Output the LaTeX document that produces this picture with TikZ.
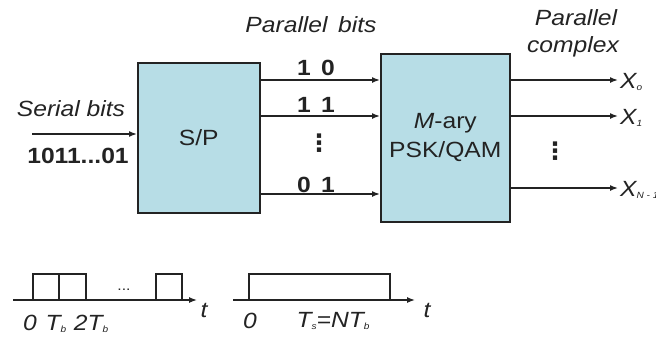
\documentclass[tikz,border=0pt]{standalone}
\usepackage{fontspec}
\setmainfont{Liberation Sans}[FakeStretch=1.12]
\newfontfamily\symfnt{DejaVu Sans}
\usetikzlibrary{arrows.meta}
\definecolor{boxfill}{RGB}{183,221,230}
\definecolor{ink}{RGB}{35,35,35}
\newcommand{\sbs}[1]{\raisebox{-2.5pt}{\fontsize{9}{9}\selectfont #1}}
\begin{document}
\begin{tikzpicture}[x=1pt,y=-1pt,
  every node/.style={text=ink, font=\fontsize{22}{29}\selectfont, inner sep=0pt},
  blk/.style={draw=ink, line width=1.6pt, fill=boxfill},
  sig/.style={draw=ink, line width=1.5pt, -{Latex[length=8pt,width=6pt]}},
  wave/.style={draw=ink, line width=1.3pt},
  lab/.style={font=\fontsize{22}{26}\selectfont\itshape},
  bitlab/.style={font=\fontsize{22}{26}\selectfont\bfseries},
  vdotlab/.style={font=\fontsize{24}{24}\selectfont\symfnt\bfseries}]
\useasboundingbox (0,0) rectangle (656,340);

% blocks
\node[blk, minimum width=122pt, minimum height=150pt, anchor=north west] (sp) at (137,62) {S/P};
\node[blk, minimum width=129pt, minimum height=168pt, anchor=north west, align=center] (psk) at (380,53) {\textit{M}-ary\\PSK/QAM};

% serial input
\coordinate (sin) at (32,134);
\draw[sig] (sin) -- (sin -| sp.west);
\node[lab, anchor=base] (serlab) at (71,116) {Serial bits};
\node[bitlab, anchor=base] (serbits) at (78,163) {1011...01};

% parallel bits
\draw[sig] (sp.east |- 0,80) -- (psk.west |- 0,80);
\draw[sig] (sp.east |- 0,116) -- (psk.west |- 0,116);
\draw[sig] (sp.east |- 0,194) -- (psk.west |- 0,194);
\node[lab, anchor=base] (parlab) at (311,32) {Parallel\, bits};
\node[bitlab, anchor=base] (b1) at (316,75) {1\, 0};
\node[bitlab, anchor=base] (b2) at (316,112) {1\, 1};
\node[vdotlab] (bdots) at (319,143) {⋮};
\node[bitlab, anchor=base] (b3) at (316,192) {0\, 1};

% outputs
\coordinate (o1) at (618,80);
\coordinate (o2) at (618,116);
\coordinate (o3) at (618,188);
\draw[sig] (psk.east |- o1) -- (o1);
\draw[sig] (psk.east |- o2) -- (o2);
\draw[sig] (psk.east |- o3) -- (o3);
\node[lab, anchor=base] (pc1) at (576,25) {Parallel};
\node[lab, anchor=base] (pc2) at (573,52) {complex};
\node[vdotlab] (odots) at (555,151) {⋮};
\node[lab, anchor=west] (x0) at (620,82) {X\sbs{o}};
\node[lab, anchor=west] (x1) at (620,118) {X\sbs{1}};
\node[lab, anchor=west] (xn) at (620,190) {X\sbs{N - 1}};

% waveforms
\draw[wave, -{Latex[length=8pt,width=6pt]}] (13,300) -- (197,300);
\draw[wave] (33,300) -- (33,274) -- (86,274) -- (86,300);
\draw[wave] (59,274) -- (59,300);
\draw[wave] (156,300) -- (156,274) -- (182,274) -- (182,300);
\node[font=\fontsize{14}{14}\selectfont] (wdots) at (124,290) {...};
\node[lab, anchor=base] (t1) at (204,317) {t};
\node[lab, anchor=base] (l0) at (30,330) {0};
\node[lab, anchor=base] (lTb) at (56,330) {T\sbs{b}};
\node[lab, anchor=base] (l2Tb) at (91,330) {2T\sbs{b}};

\draw[wave, -{Latex[length=8pt,width=6pt]}] (233,300) -- (415,300);
\draw[wave] (249,300) -- (249,274) -- (390,274) -- (390,300);
\node[lab, anchor=base] (t2) at (427,317) {t};
\node[lab, anchor=base] (r0) at (250,328) {0};
\node[lab, anchor=base] (rTs) at (333,327) {T\sbs{s}=NT\sbs{b}};
\end{tikzpicture}
\end{document}
